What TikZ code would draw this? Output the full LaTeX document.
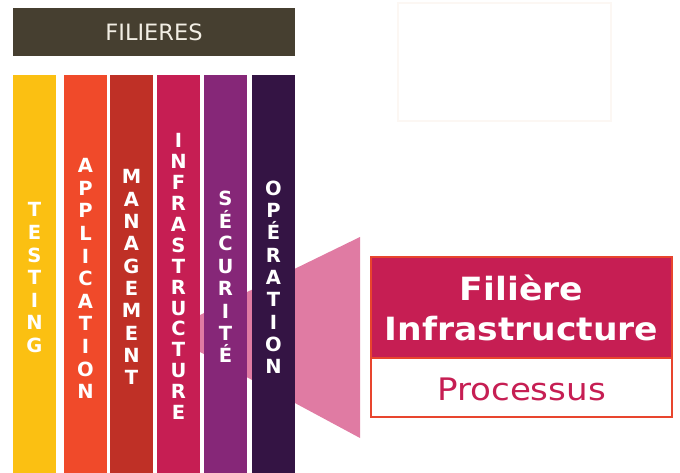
\documentclass[tikz,border=0pt]{standalone}
\usepackage{fontspec}
\setmainfont{DejaVu Sans}
\newfontfamily\vbold{DejaVu Sans Bold}
\newfontfamily\vboldwide[FakeStretch=1.08]{DejaVu Sans Bold}
\newfontfamily\vregwide[FakeStretch=1.1]{DejaVu Sans}
\definecolor{bannerc}{HTML}{463F30}
\definecolor{yellowc}{HTML}{FBC012}
\definecolor{orangec}{HTML}{F04A2A}
\definecolor{redc}{HTML}{BF3026}
\definecolor{crimsonc}{HTML}{C61E53}
\definecolor{purplec}{HTML}{862778}
\definecolor{darkc}{HTML}{341444}
\definecolor{pinkc}{HTML}{E07BA3}
\definecolor{borderc}{HTML}{E8452E}
\definecolor{faintc}{HTML}{FCF7F3}
\definecolor{bantext}{HTML}{F2EEE4}
\begin{document}
\begin{tikzpicture}[x=1pt,y=-1pt,
  letter/.style={anchor=base, text=white, inner sep=0pt, font=\vbold\fontsize{19.5}{19.5}\selectfont},
  banner/.style={fill=bannerc, text=bantext, minimum width=282pt, minimum height=48pt, inner sep=0pt, font=\fontsize{22.5}{22.5}\selectfont},
  bigtitle/.style={anchor=base, text=white, inner sep=0pt, font=\vboldwide\fontsize{32}{32}\selectfont},
  subtitle/.style={anchor=base, text=crimsonc, inner sep=0pt, font=\vregwide\fontsize{31}{31}\selectfont}]
\useasboundingbox (0,0) rectangle (680,473);
% faint frame top right
\draw[faintc, line width=2pt] (398,3) rectangle (611,121);
% pink funnel
\fill[pinkc] (200,315) -- (360,237) -- (360,438) -- (200,352) -- cycle;
% banner
\node[banner] (fil) at (154,32) {FILIERES};
% columns
\fill[yellowc] (13,75) rectangle (56,473);
\fill[orangec] (64,75) rectangle (107,473);
\fill[redc] (110,75) rectangle (153,473);
\fill[crimsonc] (157,75) rectangle (200,473);
\fill[purplec] (204,75) rectangle (247,473);
\fill[darkc] (252,75) rectangle (295,473);
% column letters
\foreach \l [count=\i from 0] in {T,E,S,T,I,N,G}
  \node[letter] (te\i) at (34.5,216.8+\i*22.6) {\l};
\foreach \l [count=\i from 0] in {A,P,P,L,I,C,A,T,I,O,N}
  \node[letter] (ap\i) at (85.5,172.7+\i*22.6) {\l};
\foreach \l [count=\i from 0] in {M,A,N,A,G,E,M,E,N,T}
  \node[letter] (ma\i) at (131.5,184+\i*22.3) {\l};
\foreach \l [count=\i from 0] in {I,N,F,R,A,S,T,R,U,C,T,U,R,E}
  \node[letter] (in\i) at (178.5,147.8+\i*20.9) {\l};
\foreach \l [count=\i from 0] in {S,É,C,U,R,I,T,É}
  \node[letter] (se\i) at (225.5,206+\i*22.4) {\l};
\foreach \l [count=\i from 0] in {O,P,É,R,A,T,I,O,N}
  \node[letter] (op\i) at (273.5,195.3+\i*22.3) {\l};
% right box
\fill[crimsonc] (371,257) rectangle (672,358);
\fill[white] (371,358) rectangle (672,417);
\draw[borderc, line width=2pt] (371,257) rectangle (672,417);
\draw[borderc, line width=1.5pt] (371,358) -- (672,358);
\node[bigtitle] (t1) at (521.5,300.7) {Filière};
\node[bigtitle] (t2) at (521.5,340.3) {Infrastructure};
\node[subtitle] (t3) at (521.5,400) {Processus};
\end{tikzpicture}
\end{document}
